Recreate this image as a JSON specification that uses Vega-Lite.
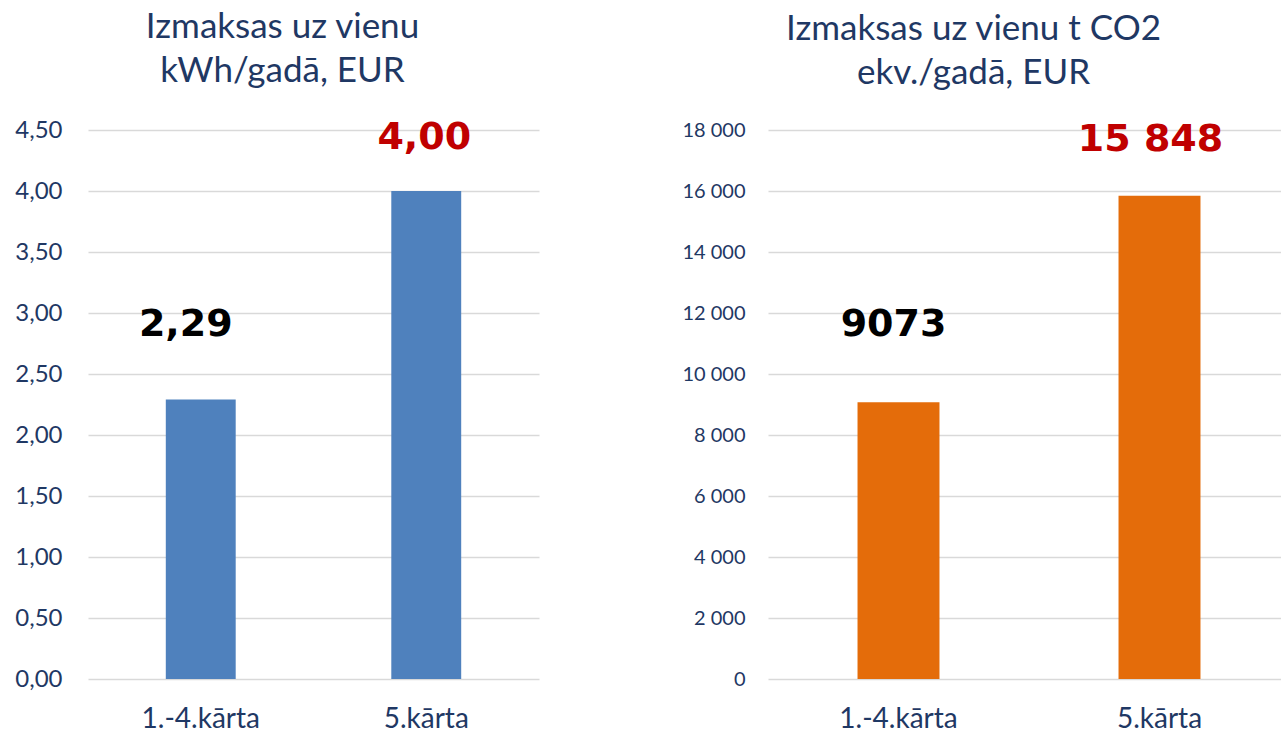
{
  "$schema": "https://vega.github.io/schema/vega-lite/v6.json",
  "padding": {"top": 10, "left": 0, "right": 0, "bottom": 0},
  "background": "white",
  "spacing": 139,
  "config": {
    "locale": {"number": {"decimal": ",", "thousands": " ", "grouping": [3], "currency": ["", " €"]}},
    "view": {"stroke": null},
    "font": "Lato",
    "title": {"font": "Lato", "fontSize": 35, "fontWeight": "normal", "color": "#1F3864", "lineHeight": 44, "anchor": "middle", "offset": 29},
    "axis": {"labelFont": "Lato", "labelColor": "#1F3864", "titleColor": "#1F3864", "domain": false, "ticks": false, "gridColor": "#D9D9D9", "gridWidth": 1.5}
  },
  "datasets": {
    "kwh": [
      {"karta": "1.-4.kārta", "izmaksas": 2.29},
      {"karta": "5.kārta", "izmaksas": 4.00}
    ],
    "co2": [
      {"karta": "1.-4.kārta", "izmaksas": 9073},
      {"karta": "5.kārta", "izmaksas": 15848}
    ]
  },
  "hconcat": [
    {
      "width": 451,
      "height": 549,
      "title": {"text": ["Izmaksas uz vienu", "kWh/gadā, EUR"], "dx": -31},
      "data": {"name": "kwh"},
      "encoding": {
        "x": {"field": "karta", "type": "nominal", "sort": null, "title": null,
              "scale": {"paddingInner": 0, "paddingOuter": 0},
              "axis": {"labelAngle": 0, "labelFontSize": 28, "labelPadding": 26, "grid": false}},
        "y": {"field": "izmaksas", "type": "quantitative", "title": null,
              "scale": {"domain": [0, 4.5], "nice": false},
              "axis": {"values": [0, 0.5, 1, 1.5, 2, 2.5, 3, 3.5, 4, 4.5], "format": ".2f", "labelFontSize": 24, "labelPadding": 26, "minExtent": 88, "maxExtent": 88}}
      },
      "layer": [
        {"mark": {"type": "bar", "color": "#4F81BD", "width": {"band": 0.31}}},
        {"transform": [{"filter": "datum.karta == '1.-4.kārta'"}],
         "mark": {"type": "text", "font": "DejaVu Sans", "fontWeight": "bold", "fontSize": 38, "color": "#000000", "baseline": "middle", "dx": -15, "dy": -75},
         "encoding": {"text": {"field": "izmaksas", "type": "quantitative", "format": ".2f"}}},
        {"transform": [{"filter": "datum.karta == '5.kārta'"}],
         "mark": {"type": "text", "font": "DejaVu Sans", "fontWeight": "bold", "fontSize": 38, "color": "#C00000", "baseline": "middle", "dx": -2, "dy": -53},
         "encoding": {"text": {"field": "izmaksas", "type": "quantitative", "format": ".2f"}}}
      ]
    },
    {
      "width": 513,
      "height": 549,
      "title": {"text": ["Izmaksas uz vienu t CO2", "ekv./gadā, EUR"], "dx": -51},
      "data": {"name": "co2"},
      "encoding": {
        "x": {"field": "karta", "type": "nominal", "sort": null, "title": null,
              "scale": {"paddingInner": 0, "paddingOuter": 0, "range": [0, 522]},
              "axis": {"labelAngle": 0, "labelFontSize": 28, "labelPadding": 26, "grid": false}},
        "y": {"field": "izmaksas", "type": "quantitative", "title": null,
              "scale": {"domain": [0, 18000], "nice": false},
              "axis": {"values": [0, 2000, 4000, 6000, 8000, 10000, 12000, 14000, 16000, 18000], "format": ",d", "labelFontSize": 20, "labelPadding": 23, "minExtent": 90, "maxExtent": 90}}
      },
      "layer": [
        {"mark": {"type": "bar", "color": "#E46C0A", "width": {"band": 0.314}}},
        {"transform": [{"filter": "datum.karta == '1.-4.kārta'"}],
         "mark": {"type": "text", "font": "DejaVu Sans", "fontWeight": "bold", "fontSize": 38, "color": "#000000", "baseline": "middle", "dx": -5, "dy": -77},
         "encoding": {"text": {"field": "izmaksas", "type": "quantitative", "format": "d"}}},
        {"transform": [{"filter": "datum.karta == '5.kārta'"}],
         "mark": {"type": "text", "font": "DejaVu Sans", "fontWeight": "bold", "fontSize": 38, "color": "#C00000", "baseline": "middle", "dx": -9, "dy": -56},
         "encoding": {"text": {"field": "izmaksas", "type": "quantitative", "format": ",d"}}}
      ]
    }
  ]
}
